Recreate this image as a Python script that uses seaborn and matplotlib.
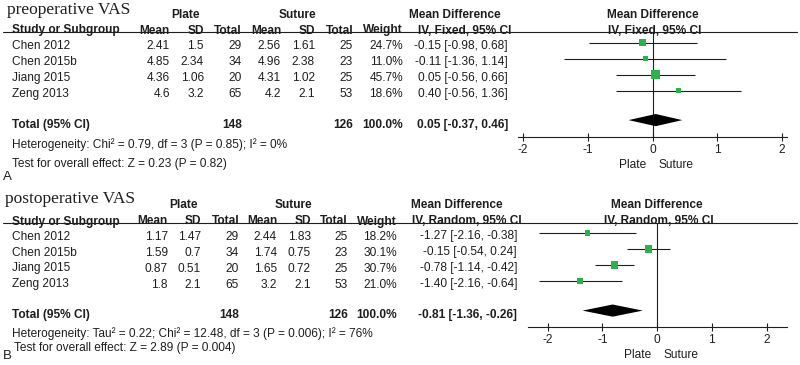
import seaborn as sns
import matplotlib.pyplot as plt

# study rows shared by both panels
studies = ["Chen 2012", "Chen 2015b", "Jiang 2015", "Zeng 2013"]
plate_n = [29, 34, 20, 65]
suture_n = [25, 23, 25, 53]

# A: preoperative VAS
pre_plate_mean = [2.41, 4.85, 4.36, 4.6]
pre_plate_sd = [1.5, 2.34, 1.06, 3.2]
pre_suture_mean = [2.56, 4.96, 4.31, 4.2]
pre_suture_sd = [1.61, 2.38, 1.02, 2.1]
pre_weight = [24.7, 11.0, 45.7, 18.6]
pre_md = [-0.15, -0.11, 0.05, 0.40]
pre_lo = [-0.98, -1.36, -0.56, -0.56]
pre_hi = [0.68, 1.14, 0.66, 1.36]
pre_total = [0.05, -0.37, 0.46]

# B: postoperative VAS
post_plate_mean = [1.17, 1.59, 0.87, 1.8]
post_plate_sd = [1.47, 0.7, 0.51, 2.1]
post_suture_mean = [2.44, 1.74, 1.65, 3.2]
post_suture_sd = [1.83, 0.75, 0.72, 2.1]
post_weight = [18.2, 30.1, 30.7, 21.0]
post_md = [-1.27, -0.15, -0.78, -1.40]
post_lo = [-2.16, -0.54, -1.14, -2.16]
post_hi = [-0.38, 0.24, -0.42, -0.64]
post_total = [-0.81, -1.36, -0.26]

ticks = [-2, -1, 0, 1, 2]

sns.set_style("white")
plt.rcParams["font.family"] = ["Liberation Sans", "DejaVu Sans"]

INK = "#1e1e1e"
GREEN = "#2bb24a"
FS = 8.6
ROW = 16.0

fig = plt.figure(figsize=(8, 3.65), dpi=100)
bg = fig.add_axes([0, 0, 1, 1])
bg.set_xlim(0, 800)
bg.set_ylim(365, 0)
bg.axis("off")


def txt(x, y, s, ha="left", bold=False, va="center_baseline", **kw):
    bg.text(x, y, s, ha=ha, va=va, fontsize=kw.pop("fontsize", FS),
            fontweight="bold" if bold else "normal", color=INK, **kw)


def panel(p):
    top, row0, axis_y = p["top"], p["row0"], p["axis_y"]
    c = p["cols"]
    # title and group headings
    bg.text(p["title_x"], p["title_y"], p["title"], ha="left", va="center",
            fontsize=12.5, family="Liberation Serif", color=INK)
    txt(c["plate"], p["group_y"], "Plate", ha="center", bold=True)
    txt(c["suture"], p["group_y"], "Suture", ha="center", bold=True)
    txt(c["md_head"], p["group_y"], "Mean Difference", ha="center", bold=True)
    txt(p["zero_px"], p["group_y"], "Mean Difference", ha="center", bold=True)
    # column headings
    hy = p["head_y"]
    txt(12, hy, "Study or Subgroup", bold=True)
    for key, lab in [("m1", "Mean"), ("s1", "SD"), ("n1", "Total"), ("m2", "Mean"),
                     ("s2", "SD"), ("n2", "Total"), ("w", "Weight")]:
        txt(c[key], hy, lab, ha="right", bold=True)
    txt(c["md_ci"], hy, p["method"], ha="center", bold=True)
    txt(p["zero_px"] + 2, hy, p["method"], ha="center", bold=True)
    bg.plot([3, 797], [top, top], color=INK, lw=0.8)

    # study rows
    for i, name in enumerate(studies):
        y = row0 + ROW * i + 2
        txt(12, y, name)
        txt(c["m1"], y, f"{p['pm'][i]:g}", ha="right")
        txt(c["s1"], y, f"{p['ps'][i]:g}", ha="right")
        txt(c["n1"], y, f"{plate_n[i]}", ha="right")
        txt(c["m2"], y, f"{p['sm'][i]:g}", ha="right")
        txt(c["s2"], y, f"{p['ss'][i]:g}", ha="right")
        txt(c["n2"], y, f"{suture_n[i]}", ha="right")
        txt(c["w"], y, f"{p['w'][i]:.1f}%", ha="right")
        txt(c["md"], y, f"{p['md'][i]:.2f} [{p['lo'][i]:.2f}, {p['hi'][i]:.2f}]", ha="right")

    ty = row0 + ROW * 4.85 + 3
    est, lo, hi = p["total"]
    txt(12, ty, "Total (95% CI)", bold=True)
    txt(c["n1"], ty, f"{sum(plate_n)}", ha="right", bold=True)
    txt(c["n2"], ty, f"{sum(suture_n)}", ha="right", bold=True)
    txt(c["w"], ty, f"{sum(p['w']):.1f}%", ha="right", bold=True)
    txt(c["md"], ty, f"{est:.2f} [{lo:.2f}, {hi:.2f}]", ha="right", bold=True)
    txt(12, p["het_y"], p["het"])
    txt(p["test_x"], p["test_y"], p["test"])
    txt(3, p["letter_y"], p["letter"], fontsize=9.5, va="center")

    # forest plot axes, placed in pixels
    l, r = p["ax_l"], p["ax_r"]
    ax = fig.add_axes([l / 800, 1 - axis_y / 365, (r - l) / 800, (axis_y - top) / 365])
    ax.patch.set_alpha(0)
    unit = p["unit"]
    ax.set_xlim((l - p["zero_px"]) / unit, (r - p["zero_px"]) / unit)
    ax.set_ylim((axis_y - row0) / ROW, (top - row0) / ROW)
    rows = list(range(len(studies)))
    ax.hlines(rows, p["lo"], p["hi"], color=INK, lw=0.8, zorder=2)
    sns.scatterplot(x=p["md"], y=rows, size=p["w"], sizes=(0, 92), size_norm=(0, 100),
                    marker="s", color=GREEN, linewidth=0, legend=False, ax=ax, zorder=3)
    tr = 4.85
    h = 0.38
    ax.fill([lo, est, hi, est], [tr, tr - h, tr, tr + h], color="black", lw=0, zorder=3)
    ax.axvline(0, color=INK, lw=0.8, zorder=1)
    sns.despine(ax=ax, left=True)
    ax.spines["bottom"].set_color(INK)
    ax.spines["bottom"].set_linewidth(0.8)
    ax.set_xticks(ticks)
    ax.set_xticklabels([str(t) for t in ticks])
    ax.set_yticks([])
    ax.tick_params(axis="x", direction="inout", length=6, width=0.8, colors=INK,
                   labelsize=FS, pad=2, bottom=True)
    ax.set_xlabel("")
    ax.set_ylabel("")
    txt(p["zero_px"] - 6, p["side_y"], "Plate", ha="right")
    txt(p["zero_px"] + 6, p["side_y"], "Suture", ha="left")


panel(dict(
    title="preoperative VAS", title_x=7, title_y=10, group_y=13, head_y=29,
    top=32, row0=42.5, axis_y=137,
    cols=dict(plate=185, suture=297, m1=170, s1=204, n1=242, m2=281, s2=315, n2=353,
              w=403, md=508, md_head=455, md_ci=465),
    method="IV, Fixed, 95% CI",
    pm=pre_plate_mean, ps=pre_plate_sd, sm=pre_suture_mean, ss=pre_suture_sd,
    w=pre_weight, md=pre_md, lo=pre_lo, hi=pre_hi, total=pre_total,
    het="Heterogeneity: Chi² = 0.79, df = 3 (P = 0.85); I² = 0%", het_y=143,
    test="Test for overall effect: Z = 0.23 (P = 0.82)", test_x=12, test_y=163,
    letter="A", letter_y=177,
    ax_l=518, ax_r=787, zero_px=652.5, unit=64.75, side_y=164,
))

panel(dict(
    title="postoperative VAS", title_x=5, title_y=199, group_y=204, head_y=220,
    top=223, row0=233, axis_y=327,
    cols=dict(plate=183, suture=293, m1=168, s1=201, n1=239, m2=277, s2=311, n2=348,
              w=397, md=517, md_head=457, md_ci=467),
    method="IV, Random, 95% CI",
    pm=post_plate_mean, ps=post_plate_sd, sm=post_suture_mean, ss=post_suture_sd,
    w=post_weight, md=post_md, lo=post_lo, hi=post_hi, total=post_total,
    het="Heterogeneity: Tau² = 0.22; Chi² = 12.48, df = 3 (P = 0.006); I² = 76%", het_y=332,
    test="Test for overall effect: Z = 2.89 (P = 0.004)", test_x=14, test_y=346,
    letter="B", letter_y=356,
    ax_l=528, ax_r=787, zero_px=657, unit=54.75, side_y=353,
))

fig.savefig("out.png", dpi=100)
